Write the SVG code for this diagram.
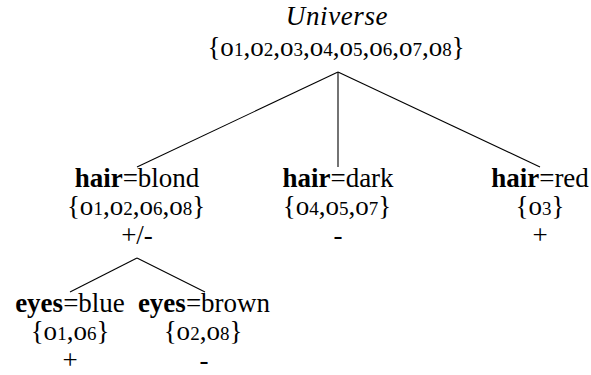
<svg xmlns="http://www.w3.org/2000/svg" width="591" height="375" viewBox="0 0 591 375">
<rect width="591" height="375" fill="#fff"/>
<g id="connectors" stroke="#000" stroke-width="1.1">
<line x1="338" y1="72" x2="137" y2="167"/>
<line x1="338" y1="72" x2="338" y2="167"/>
<line x1="338" y1="72" x2="540" y2="167"/>
<line x1="137" y1="258" x2="70" y2="292"/>
<line x1="137" y1="258" x2="205" y2="292"/>
</g>
<g id="root">
<text font-family="Times New Roman" font-size="27" text-anchor="middle" x="337" y="25" font-style="italic" letter-spacing="0.6">Universe</text>
<text font-family="Times New Roman" font-size="27" text-anchor="middle" x="336" y="56">{o<tspan font-family="Times New Roman" font-size="19">1</tspan>,o<tspan font-family="Times New Roman" font-size="19">2</tspan>,o<tspan font-family="Times New Roman" font-size="19">3</tspan>,o<tspan font-family="Times New Roman" font-size="19">4</tspan>,o<tspan font-family="Times New Roman" font-size="19">5</tspan>,o<tspan font-family="Times New Roman" font-size="19">6</tspan>,o<tspan font-family="Times New Roman" font-size="19">7</tspan>,o<tspan font-family="Times New Roman" font-size="19">8</tspan>}</text>
</g>
<g id="blond">
<text font-family="Times New Roman" font-size="27" text-anchor="middle" x="137" y="187"><tspan font-family="Times New Roman" font-weight="bold">hair</tspan>=blond</text>
<text font-family="Times New Roman" font-size="27" text-anchor="middle" x="136" y="215">{o<tspan font-family="Times New Roman" font-size="19">1</tspan>,o<tspan font-family="Times New Roman" font-size="19">2</tspan>,o<tspan font-family="Times New Roman" font-size="19">6</tspan>,o<tspan font-family="Times New Roman" font-size="19">8</tspan>}</text>
<text font-family="Times New Roman" font-size="27" text-anchor="middle" x="137" y="244">+/-</text>
</g>
<g id="dark">
<text font-family="Times New Roman" font-size="27" text-anchor="middle" x="338" y="187"><tspan font-family="Times New Roman" font-weight="bold">hair</tspan>=dark</text>
<text font-family="Times New Roman" font-size="27" text-anchor="middle" x="337" y="215">{o<tspan font-family="Times New Roman" font-size="19">4</tspan>,o<tspan font-family="Times New Roman" font-size="19">5</tspan>,o<tspan font-family="Times New Roman" font-size="19">7</tspan>}</text>
<text font-family="Times New Roman" font-size="27" text-anchor="middle" x="338" y="244">-</text>
</g>
<g id="red">
<text font-family="Times New Roman" font-size="27" text-anchor="middle" x="540" y="187"><tspan font-family="Times New Roman" font-weight="bold">hair</tspan>=red</text>
<text font-family="Times New Roman" font-size="27" text-anchor="middle" x="540" y="215">{o<tspan font-family="Times New Roman" font-size="19">3</tspan>}</text>
<text font-family="Times New Roman" font-size="27" text-anchor="middle" x="540" y="244">+</text>
</g>
<g id="blue">
<text font-family="Times New Roman" font-size="27" text-anchor="middle" x="70" y="312"><tspan font-family="Times New Roman" font-weight="bold">eyes</tspan>=blue</text>
<text font-family="Times New Roman" font-size="27" text-anchor="middle" x="70" y="340">{o<tspan font-family="Times New Roman" font-size="19">1</tspan>,o<tspan font-family="Times New Roman" font-size="19">6</tspan>}</text>
<text font-family="Times New Roman" font-size="27" text-anchor="middle" x="70" y="369">+</text>
</g>
<g id="brown">
<text font-family="Times New Roman" font-size="27" text-anchor="middle" x="204" y="312"><tspan font-family="Times New Roman" font-weight="bold">eyes</tspan>=brown</text>
<text font-family="Times New Roman" font-size="27" text-anchor="middle" x="203" y="340">{o<tspan font-family="Times New Roman" font-size="19">2</tspan>,o<tspan font-family="Times New Roman" font-size="19">8</tspan>}</text>
<text font-family="Times New Roman" font-size="27" text-anchor="middle" x="204" y="369">-</text>
</g>
</svg>
